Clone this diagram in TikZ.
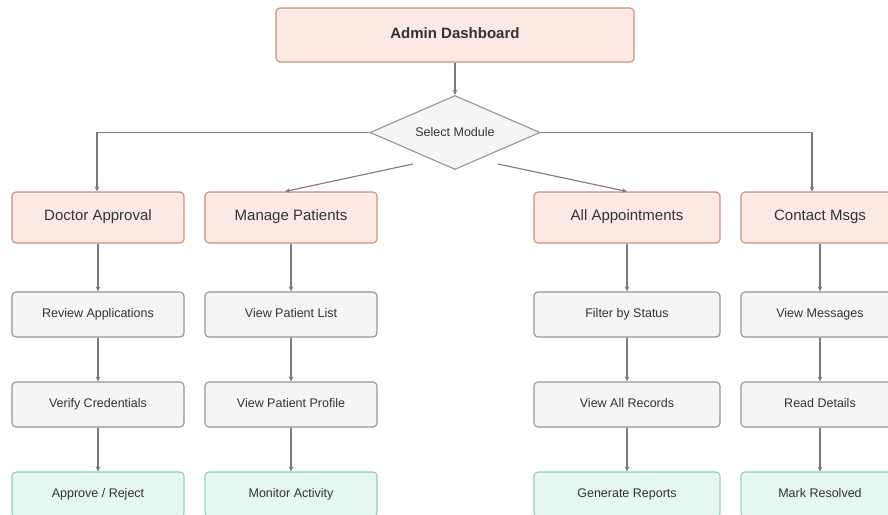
\documentclass[tikz,border=0pt]{standalone}
\usepackage{fontspec}
\setmainfont{Liberation Sans}
\usetikzlibrary{shapes.geometric,arrows.meta}
\definecolor{salfill}{HTML}{FCE9E4}
\definecolor{saldraw}{HTML}{C9917F}
\definecolor{grayfill}{HTML}{F5F5F5}
\definecolor{graydraw}{HTML}{959595}
\definecolor{grnfill}{HTML}{E4F7F1}
\definecolor{grndraw}{HTML}{95CDBD}
\definecolor{linec}{HTML}{7A7A7A}
\definecolor{txt}{HTML}{333333}
\tikzset{
  box/.style={rectangle, rounded corners=4pt, line width=1.1pt, inner sep=0pt, text=txt, align=center, text height=0.7em, text depth=0.08em},
  headbox/.style={box, fill=salfill, draw=saldraw, minimum height=51pt, font=\fontsize{15}{18}\selectfont},
  stepbox/.style={box, fill=grayfill, draw=graydraw, minimum height=45pt, font=\fontsize{12.5}{15}\selectfont},
  endbox/.style={box, fill=grnfill, draw=grndraw, minimum height=45pt, font=\fontsize{12.5}{15}\selectfont},
  conn/.style={draw=linec, line width=1.1pt, -{Stealth[length=5pt,width=4.5pt]}},
}
\begin{document}
\begin{tikzpicture}[x=1pt,y=-1pt]
\clip (0,0) rectangle (888,514);
\fill[white] (0,0) rectangle (888,514);
% top
\node[box, fill=salfill, draw=saldraw, minimum width=358pt, minimum height=54pt, font=\bfseries\fontsize{15}{18}\selectfont] (admin) at (455,35) {Admin Dashboard};
\node[diamond, aspect=2.3, inner sep=0pt, minimum width=170pt, minimum height=74pt, fill=grayfill, draw=graydraw, line width=1.1pt, text=txt, font=\fontsize{12.5}{15}\selectfont] (dia) at (455,132.5) {Select Module};
% row 1
\node[headbox, minimum width=172pt] (da) at (98,217.5) {Doctor Approval};
\node[headbox, minimum width=172pt] (mp) at (291,217.5) {Manage Patients};
\node[headbox, minimum width=186pt] (aa) at (627,217.5) {All Appointments};
\node[headbox, minimum width=158pt] (cm) at (820,217.5) {Contact Msgs};
% row 2
\node[stepbox, minimum width=172pt] (ra) at (98,314.5) {Review Applications};
\node[stepbox, minimum width=172pt] (vl) at (291,314.5) {View Patient List};
\node[stepbox, minimum width=186pt] (fs) at (627,314.5) {Filter by Status};
\node[stepbox, minimum width=158pt] (vm) at (820,314.5) {View Messages};
% row 3
\node[stepbox, minimum width=172pt] (vc) at (98,404.5) {Verify Credentials};
\node[stepbox, minimum width=172pt] (vp) at (291,404.5) {View Patient Profile};
\node[stepbox, minimum width=186pt] (vr) at (627,404.5) {View All Records};
\node[stepbox, minimum width=158pt] (rd) at (820,404.5) {Read Details};
% row 4
\node[endbox, minimum width=172pt] (ar) at (98,494.5) {Approve / Reject};
\node[endbox, minimum width=172pt] (ma) at (291,494.5) {Monitor Activity};
\node[endbox, minimum width=186pt] (gr) at (627,494.5) {Generate Reports};
\node[endbox, minimum width=158pt] (mr) at (820,494.5) {Mark Resolved};
% connectors
\draw[conn] (admin) -- (dia);
\draw[conn] (dia.west) -| ([xshift=-1pt]da.north);
\draw[conn] (dia.east) -| ([xshift=-8pt]cm.north);
\coordinate (dl) at (413,164);
\coordinate (dr) at (498,164);
\draw[conn] (dl) -- ([xshift=-6pt]mp.north);
\draw[conn] (dr) -- (aa.north);
\foreach \a/\b in {da/ra,ra/vc,vc/ar,mp/vl,vl/vp,vp/ma,aa/fs,fs/vr,vr/gr,cm/vm,vm/rd,rd/mr}{
  \draw[conn] (\a) -- (\b);
}
\end{tikzpicture}
\end{document}
